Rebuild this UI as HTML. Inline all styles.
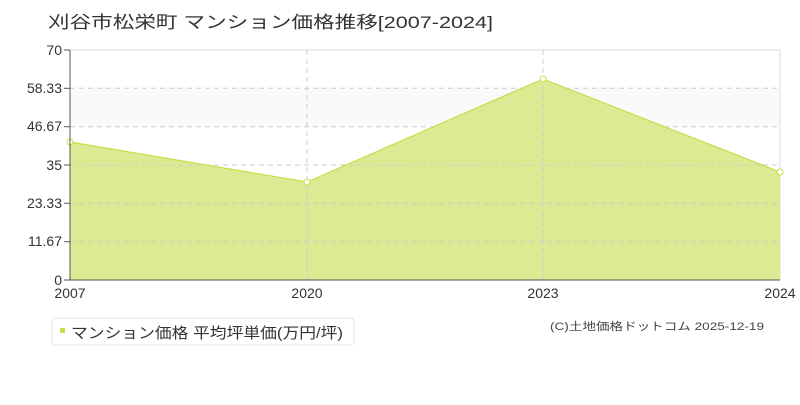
<!DOCTYPE html>
<html><head><meta charset="utf-8"><style>
body{margin:0;background:#fff;width:800px;height:400px;overflow:hidden}
svg text{font-family:"Liberation Sans","Noto Sans CJK JP",sans-serif}
</style></head><body>
<svg width="800" height="400" xmlns="http://www.w3.org/2000/svg">
<text x="48" y="28" font-size="17" fill="#333" textLength="445" lengthAdjust="spacingAndGlyphs">刈谷市松栄町 マンション価格推移[2007-2024]</text>
<rect x="70" y="88.3" width="710" height="38.3" fill="#fafafa"/>
<g stroke="#ccc" stroke-dasharray="5,4" stroke-width="1">
<line x1="70" y1="88.3" x2="780" y2="88.3"/>
<line x1="70" y1="126.7" x2="780" y2="126.7"/>
<line x1="70" y1="165" x2="780" y2="165"/>
<line x1="70" y1="203.3" x2="780" y2="203.3"/>
<line x1="70" y1="241.7" x2="780" y2="241.7"/>
<line x1="307" y1="50" x2="307" y2="280"/>
<line x1="543" y1="50" x2="543" y2="280"/>
</g>
<rect x="70" y="50" width="710" height="230" fill="none" stroke="#ddd"/>
<polygon points="70,280 70,142 307,182 543,79 780,172 780,280" fill="#dbeb94"/>
<g stroke="#ccc" stroke-dasharray="5,4"><line x1="307" y1="50" x2="307" y2="280"/><line x1="543" y1="50" x2="543" y2="280"/>
<line x1="70" y1="165" x2="780" y2="165"/><line x1="70" y1="203.3" x2="780" y2="203.3"/><line x1="70" y1="241.7" x2="780" y2="241.7"/></g>
<polyline points="70,142 307,182 543,79 780,172" fill="none" stroke="#c2e04a" stroke-width="1.2"/>
<g fill="#fff" stroke="#c2e04a"><circle cx="70" cy="142" r="3"/><circle cx="307" cy="182" r="3"/><circle cx="543" cy="79" r="3"/><circle cx="780" cy="172" r="3"/></g>
<line x1="70" y1="50" x2="70" y2="280" stroke="#555"/>
<line x1="70" y1="280" x2="780" y2="280" stroke="#555"/>
<g stroke="#555"><line x1="64" y1="50" x2="70" y2="50"/><line x1="64" y1="88.3" x2="70" y2="88.3"/><line x1="64" y1="126.7" x2="70" y2="126.7"/><line x1="64" y1="165" x2="70" y2="165"/><line x1="64" y1="203.3" x2="70" y2="203.3"/><line x1="64" y1="241.7" x2="70" y2="241.7"/><line x1="64" y1="280" x2="70" y2="280"/></g>
<g font-size="14" fill="#333" text-anchor="end">
<text x="62" y="55">70</text><text x="62" y="93">58.33</text><text x="62" y="131">46.67</text><text x="62" y="170">35</text><text x="62" y="208">23.33</text><text x="62" y="246">11.67</text><text x="62" y="285">0</text>
</g>
<g font-size="14" fill="#333" text-anchor="middle">
<text x="70" y="298">2007</text><text x="307" y="298">2020</text><text x="543" y="298">2023</text><text x="780" y="298">2024</text>
</g>
<rect x="52" y="318" width="302" height="27" rx="4" fill="#fff" stroke="#e4e4e4"/>
<rect x="60" y="328" width="5" height="5" fill="#c2e04a"/>
<text x="71" y="338" font-size="15" fill="#333" textLength="272" lengthAdjust="spacingAndGlyphs">マンション価格 平均坪単価(万円/坪)</text>
<text x="550" y="330" font-size="11" fill="#444" textLength="214" lengthAdjust="spacingAndGlyphs">(C)土地価格ドットコム 2025-12-19</text>
</svg>
</body></html>
